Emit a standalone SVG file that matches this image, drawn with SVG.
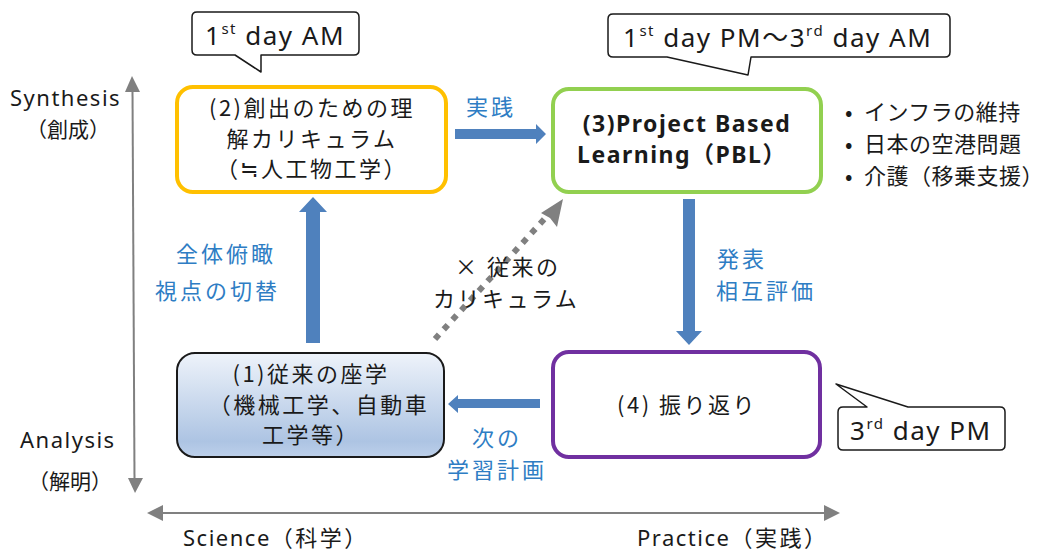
<svg xmlns="http://www.w3.org/2000/svg" width="1054" height="553" viewBox="0 0 1054 553">
<defs>
<linearGradient id="g1" x1="0" y1="0" x2="0" y2="1">
<stop offset="0" stop-color="#EEF3FA"/>
<stop offset="0.85" stop-color="#ADC4E3"/>
<stop offset="1" stop-color="#BDD0EA"/>
</linearGradient>
<style>
.t{font-family:"Noto Sans","Noto Sans CJK JP",sans-serif;fill:#1a1a1a;letter-spacing:1.5px}
.j{font-family:"Noto Sans CJK JP",sans-serif;fill:#1a1a1a;letter-spacing:2.5px}
.b{font-family:"Noto Sans CJK JP",sans-serif;fill:#2E7DC4;letter-spacing:3px}
.ax{stroke:#808080;stroke-width:2;fill:none}
.ah{fill:#808080}
.bl{fill:#4F81BD}
.call{fill:#fff;stroke:#1a1a1a;stroke-width:1.5;stroke-linejoin:round}
</style>
</defs>
<rect width="1054" height="553" fill="#fff"/>

<g id="axes">
<line class="ax" x1="132.5" y1="90" x2="134.5" y2="479"/>
<polygon class="ah" points="132,76 125,92 140,92"/>
<polygon class="ah" points="135,493 128,478 143,478"/>
<line class="ax" x1="162" y1="513" x2="826" y2="513"/>
<polygon class="ah" points="147,513 163,505 163,521"/>
<polygon class="ah" points="840,513 824,505 824,521"/>
</g>

<g id="connectors">
<polygon class="bl" points="455,129 536,129 536,124 546,134 536,144 536,139 455,139"/>
<polygon class="bl" points="306,343 306,212 299,212 313,197 327,212 320,212 320,343"/>
<polygon class="bl" points="683,199 683,331 676,331 689,345 702,331 695,331 695,199"/>
<polygon class="bl" points="540,399 458,399 458,395 448,404 458,413 458,408 540,408"/>
<line x1="435" y1="339" x2="548" y2="215" stroke="#808080" stroke-width="6" stroke-dasharray="6 7"/>
<polygon class="ah" points="563,199 557,227 550,218 541,213"/>
</g>

<g id="callout-am">
<path class="call" d="M197,12 H354 Q359,12 359,17 V50 Q359,55 354,55 H261 V72 L235,55 H197 Q192,55 192,50 V17 Q192,12 197,12 Z"/>
<text class="t" x="205" y="45" font-size="26">1<tspan font-size="15" dy="-11">st</tspan><tspan dy="11"> day AM</tspan></text>
</g>

<g id="callout-pm">
<path class="call" d="M613,14 H945 Q950,14 950,19 V52 Q950,57 945,57 H751 L748,75 L667,57 H613 Q608,57 608,52 V19 Q608,14 613,14 Z"/>
<text class="t" x="623" y="47" font-size="26">1<tspan font-size="15" dy="-11">st</tspan><tspan dy="11"> day PM～3</tspan><tspan font-size="15" dy="-11">rd</tspan><tspan dy="11"> day AM</tspan></text>
</g>

<g id="callout-3rd">
<path class="call" d="M843,407 H867 L836,384 L908,407 H1000 Q1005,407 1005,412 V445 Q1005,450 1000,450 H843 Q838,450 838,445 V412 Q838,407 843,407 Z"/>
<text class="t" x="850" y="440" font-size="26">3<tspan font-size="15" dy="-11">rd</tspan><tspan dy="11"> day PM</tspan></text>
</g>

<g id="node2">
<rect x="177" y="87" width="269" height="105" rx="16" fill="#fff" stroke="#FFC000" stroke-width="4"/>
<text class="j" font-size="22" text-anchor="middle"><tspan x="312" y="116">(2)創出のための理</tspan><tspan x="312" y="147">解カリキュラム</tspan><tspan x="312" y="177">（≒人工物工学）</tspan></text>
</g>

<g id="node3">
<rect x="553" y="89" width="268" height="103" rx="16" fill="#fff" stroke="#92D050" stroke-width="4"/>
<text class="t" font-size="23" font-weight="bold" text-anchor="middle"><tspan x="687" y="132">(3)Project Based</tspan><tspan x="682" y="163">Learning（PBL）</tspan></text>
</g>

<g id="node1">
<rect x="177" y="353" width="267" height="104" rx="18" fill="url(#g1)" stroke="#1a1a1a" stroke-width="2"/>
<text class="j" font-size="22" text-anchor="middle"><tspan x="311" y="382">(1)従来の座学</tspan><tspan x="319" y="413">（機械工学、自動車</tspan><tspan x="311" y="443">工学等）</tspan></text>
</g>

<g id="node4">
<rect x="553" y="352" width="267" height="105" rx="16" fill="#fff" stroke="#7030A0" stroke-width="4"/>
<text class="j" font-size="22" text-anchor="middle" x="687" y="413">(4) 振り返り</text>
</g>

<g id="labels">
<text class="b" font-size="22" x="466" y="115">実践</text>
<text class="b" font-size="22" x="176" y="262">全体俯瞰</text>
<text class="b" font-size="22" x="155" y="299">視点の切替</text>
<text class="b" font-size="22" x="717" y="267">発表</text>
<text class="b" font-size="22" x="716" y="299">相互評価</text>
<text class="b" font-size="22" x="472" y="446">次の</text>
<text class="b" font-size="22" x="447" y="478">学習計画</text>
<text class="j" font-size="22" x="455" y="275">×  従来の</text>
<text class="j" font-size="22" x="433" y="307">カリキュラム</text>
<text class="j" font-size="22" style="letter-spacing:0.5px"><tspan x="845" y="120">•</tspan><tspan x="864" y="120">インフラの維持</tspan><tspan x="845" y="152">•</tspan><tspan x="864" y="152">日本の空港問題</tspan><tspan x="845" y="184">•</tspan><tspan x="864" y="184">介護（移乗支援）</tspan></text>
<text class="t" font-size="22" x="10" y="106">Synthesis</text>
<text class="j" font-size="21" x="26" y="137" style="letter-spacing:0">（創成）</text>
<text class="t" font-size="22" x="20" y="448">Analysis</text>
<text class="j" font-size="21" x="28" y="489" style="letter-spacing:0">（解明）</text>
<text class="t" font-size="22" x="183" y="546">Science<tspan class="j">（科学）</tspan></text>
<text class="t" font-size="22" x="637" y="546">Practice<tspan class="j">（実践）</tspan></text>
</g>
</svg>
